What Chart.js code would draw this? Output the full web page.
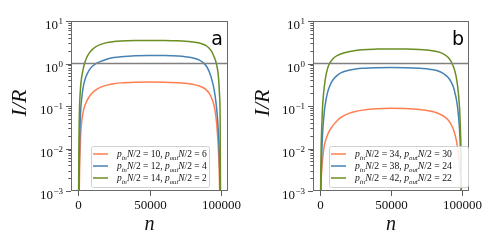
<!DOCTYPE html>
<html>
<head>
<meta charset="utf-8">
<script src="https://cdn.jsdelivr.net/npm/chart.js@4.4.1/dist/chart.umd.min.js"></script>
<style>
  body { margin: 0; background: #fff; }
  #wrap { position: relative; width: 498px; height: 249px; overflow: hidden; }
  .panel { position: absolute; top: 0; width: 249px; height: 249px; }
</style>
</head>
<body>
<div id="wrap">
  <div class="panel" style="left:0"><canvas id="chartA" width="249" height="249"></canvas></div>
  <div class="panel" style="left:249px"><canvas id="chartB" width="249" height="249"></canvas></div>
</div>
<script>
// sample positions along n
var nVals = [0, 300, 500, 700, 1000, 1500, 2000, 3000, 4000, 5000, 6000, 8000, 10000, 12500, 15000, 20000, 25000, 30000, 40000,
             50000, 60000, 70000, 75000, 80000, 85000, 88000, 90000, 92000, 94000, 95000, 96000, 97000, 98000, 98500, 99000, 99500, 100000];

// panel a
var orangeA = [1e-5, 1e-5, 1e-4, 0.0006, 0.003, 0.012, 0.028, 0.058, 0.085, 0.108, 0.13, 0.17, 0.205, 0.24, 0.27, 0.31, 0.335, 0.35, 0.362,
               0.365, 0.363, 0.352, 0.342, 0.325, 0.295, 0.265, 0.235, 0.195, 0.14, 0.11, 0.075, 0.04, 0.014, 0.006, 0.0018, 0.0002, 1e-5];
var blueA   = [1e-5, 1e-5, 0.0003, 0.002, 0.012, 0.05, 0.1, 0.21, 0.33, 0.44, 0.54, 0.72, 0.86, 0.99, 1.09, 1.26, 1.38, 1.45, 1.53,
               1.55, 1.54, 1.5, 1.45, 1.36, 1.2, 1.02, 0.85, 0.62, 0.38, 0.27, 0.17, 0.09, 0.035, 0.017, 0.006, 0.0008, 1e-5];
var greenA  = [1e-5, 0.0008, 0.008, 0.035, 0.1, 0.22, 0.36, 0.6, 0.87, 1.13, 1.38, 1.8, 2.15, 2.5, 2.75, 3.1, 3.28, 3.38, 3.47,
               3.5, 3.48, 3.42, 3.35, 3.22, 3.02, 2.8, 2.58, 2.25, 1.8, 1.5, 1.25, 0.95, 0.6, 0.4, 0.2, 0.05, 1e-5];

// panel b
var orangeB = [1e-5, 0.0003, 0.001, 0.0017, 0.0026, 0.0044, 0.0066, 0.012, 0.016, 0.02, 0.024, 0.031, 0.038, 0.047, 0.055, 0.066, 0.074, 0.08, 0.086,
               0.088, 0.087, 0.083, 0.079, 0.073, 0.063, 0.055, 0.048, 0.039, 0.028, 0.022, 0.016, 0.01, 0.0055, 0.0036, 0.002, 0.0009, 1e-5];
var blueB   = [1e-5, 1e-4, 0.0008, 0.002, 0.005, 0.015, 0.03, 0.075, 0.13, 0.19, 0.25, 0.36, 0.45, 0.54, 0.61, 0.69, 0.74, 0.77, 0.795,
               0.8, 0.795, 0.775, 0.75, 0.71, 0.63, 0.55, 0.48, 0.39, 0.28, 0.21, 0.15, 0.09, 0.04, 0.022, 0.009, 0.002, 1e-5];
var greenB  = [1e-5, 0.0005, 0.003, 0.009, 0.022, 0.065, 0.13, 0.29, 0.5, 0.7, 0.9, 1.17, 1.38, 1.56, 1.7, 1.9, 2.03, 2.12, 2.18,
               2.2, 2.19, 2.14, 2.08, 1.98, 1.8, 1.6, 1.42, 1.17, 0.85, 0.67, 0.48, 0.29, 0.13, 0.07, 0.025, 0.004, 1e-5];

var refLevel = 1;
var xTicks = [0, 50000, 100000];
var yDecades = [-3, -2, -1, 0, 1];
var legendA = [['10', '6'], ['12', '4'], ['14', '2']];
var legendB = [['34', '30'], ['38', '24'], ['42', '22']];
var colors = ['#ff7f50', '#4682b4', '#6b8e23'];

var SERIF = '"Liberation Serif", "DejaVu Serif", serif';

function mathRun(ctx, x, y, parts, size, draw) {
  var w = 0;
  parts.forEach(function(p) {
    var fs = p[2] ? size * 0.7 : size;
    ctx.font = (p[1] ? 'italic ' : '') + fs + 'px ' + SERIF;
    if (draw) ctx.fillText(p[0], x + w, y + (p[2] ? size * 0.28 : 0));
    w += ctx.measureText(p[0]).width;
  });
  return w;
}

function legendParts(a, b) {
  return [['p', 1, 0], ['in', 1, 1], ['N', 1, 0], ['/2 = ' + a + ', ', 0, 0],
          ['p', 1, 0], ['out', 1, 1], ['N', 1, 0], ['/2 = ' + b, 0, 0]];
}

var decorPlugin = {
  id: 'decor',
  afterDraw: function(chart) {
    var o = chart.options.plugins.decor;
    var ctx = chart.ctx, a = chart.chartArea;
    var xs = chart.scales.x, ys = chart.scales.y;
    ctx.save();

    // frame
    ctx.strokeStyle = '#6a6a6a';
    ctx.lineWidth = 1;
    ctx.strokeRect(a.left + 0.5, a.top + 0.5, a.right - a.left - 1, a.bottom - a.top - 1);

    // y ticks (major + minor) and labels
    ctx.strokeStyle = '#333';
    ctx.lineWidth = 0.8;
    ctx.fillStyle = '#111';
    yDecades.forEach(function(e) {
      var py = Math.round(ys.getPixelForValue(Math.pow(10, e))) + 0.5;
      ctx.beginPath(); ctx.moveTo(a.left - 5, py); ctx.lineTo(a.left, py); ctx.stroke();
      if (e < 1) {
        for (var m = 2; m < 10; m++) {
          var pm = Math.round(ys.getPixelForValue(m * Math.pow(10, e))) + 0.5;
          ctx.beginPath(); ctx.moveTo(a.left - 2.7, pm); ctx.lineTo(a.left, pm); ctx.stroke();
        }
      }
      var ex = (e < 0 ? '\u2212' : '') + Math.abs(e);
      ctx.font = '9px ' + SERIF;
      var we = ctx.measureText(ex).width;
      ctx.font = '13px ' + SERIF;
      var wb = ctx.measureText('10').width;
      var xr = a.left - 8;
      ctx.textAlign = 'left';
      ctx.textBaseline = 'alphabetic';
      ctx.fillText('10', xr - we - wb - 0.5, py + 7.5);
      ctx.font = '9px ' + SERIF;
      ctx.fillText(ex, xr - we, py + 2);
    });

    // x ticks and labels
    ctx.font = '13px ' + SERIF;
    ctx.textAlign = 'center';
    xTicks.forEach(function(v) {
      var px = Math.round(xs.getPixelForValue(v)) + 0.5;
      ctx.beginPath(); ctx.moveTo(px, a.bottom); ctx.lineTo(px, a.bottom + 5); ctx.stroke();
      ctx.fillText(String(v), px, a.bottom + 18);
    });

    // axis titles
    ctx.font = 'italic 20px ' + SERIF;
    ctx.fillText('n', (a.left + a.right) / 2, a.bottom + 39);
    ctx.save();
    ctx.font = 'italic 22px ' + SERIF;
    ctx.translate(o.ylabX, (a.top + a.bottom) / 2 - 3);
    ctx.rotate(-Math.PI / 2);
    ctx.fillText('I/R', 0, 0);
    ctx.restore();

    // panel letter
    ctx.font = '19px "DejaVu Sans", sans-serif';
    ctx.fillStyle = '#000';
    ctx.fillText(o.tag, a.right - 11, a.top + 24);

    // legend
    var bx = o.legX, by = a.bottom - 45, bw = o.legW, bh = 41;
    ctx.fillStyle = 'rgba(255,255,255,0.85)';
    ctx.strokeStyle = '#d0d0d0';
    ctx.lineWidth = 1;
    ctx.beginPath();
    ctx.roundRect(bx + 0.5, by + 0.5, bw, bh, 2);
    ctx.fill(); ctx.stroke();
    ctx.textAlign = 'left';
    ctx.fillStyle = '#111';
    var size = 8;
    var w0 = mathRun(ctx, 0, 0, legendParts(o.leg[0][0], o.leg[0][1]), size, false);
    size = size * o.textW / w0;
    o.leg.forEach(function(pair, i) {
      var ry = by + 8 + i * 12;
      ctx.strokeStyle = colors[i];
      ctx.lineWidth = 1.5;
      ctx.beginPath(); ctx.moveTo(bx + 2, ry); ctx.lineTo(bx + 17, ry); ctx.stroke();
      ctx.fillStyle = '#111';
      mathRun(ctx, bx + 26, ry + 3, legendParts(pair[0], pair[1]), size, true);
    });

    ctx.restore();
  }
};

function makeChart(id, series, opts) {
  var datasets = series.map(function(s, i) {
    return {
      data: nVals.map(function(n, j) { return { x: n, y: s[j] }; }),
      borderColor: colors[i],
      borderWidth: 1.5,
      pointRadius: 0,
      cubicInterpolationMode: 'monotone',
      fill: false,
      order: 3 - i
    };
  });
  datasets.push({
    data: [{ x: -5000, y: refLevel }, { x: 105000, y: refLevel }],
    borderColor: '#808080',
    borderWidth: 1.5,
    pointRadius: 0,
    fill: false,
    order: 0
  });

  return new Chart(document.getElementById(id), {
    type: 'line',
    data: { datasets: datasets },
    options: {
      responsive: false,
      animation: false,
      devicePixelRatio: 1,
      layout: { padding: { left: 0, top: 21, right: opts.padRight, bottom: 0 } },
      scales: {
        x: {
          type: 'linear', min: -5000, max: 105000,
          grid: { display: false }, border: { display: false },
          ticks: { display: false },
          afterFit: function(s) { s.height = 58; }
        },
        y: {
          type: 'logarithmic', min: 1e-3, max: 10,
          grid: { display: false }, border: { display: false },
          ticks: { display: false },
          afterFit: function(s) { s.width = opts.left; }
        }
      },
      plugins: {
        legend: { display: false },
        tooltip: { enabled: false },
        decor: opts
      }
    },
    plugins: [decorPlugin]
  });
}

makeChart('chartA', [orangeA, blueA, greenA],
  { left: 71, padRight: 21, tag: 'a', leg: legendA, legX: 91, legW: 118, textW: 90, ylabX: 26 });
makeChart('chartB', [orangeB, blueB, greenB],
  { left: 64, padRight: 29, tag: 'b', leg: legendB, legX: 80, legW: 139, textW: 97, ylabX: 20 });
</script>
</body>
</html>
